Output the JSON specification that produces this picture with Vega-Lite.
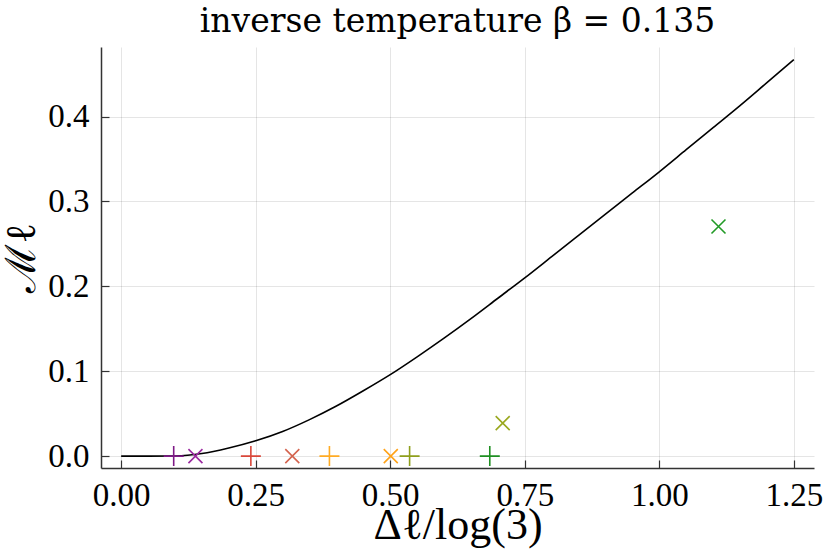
{
  "$schema": "https://vega.github.io/schema/vega-lite/v6.json",
  "width": 713,
  "height": 421,
  "autosize": {"type": "none"},
  "padding": {"left": 101, "top": 47, "right": 16, "bottom": 86},
  "background": "white",
  "title": {
    "text": "inverse temperature β = 0.135",
    "font": "DejaVu Serif",
    "fontSize": 33,
    "fontWeight": "normal",
    "color": "black",
    "anchor": "middle",
    "offset": 8
  },
  "config": {
    "view": {"stroke": null},
    "axis": {
      "labelFont": "Liberation Serif",
      "labelFontSize": 33,
      "labelColor": "black",
      "titleFont": "Liberation Serif, DejaVu Serif",
      "titleFontWeight": "normal",
      "titleColor": "black",
      "domainColor": "#333333",
      "domainWidth": 1.5,
      "tickColor": "#333333",
      "tickWidth": 1.2,
      "tickSize": -8,
      "gridColor": "#000000",
      "gridOpacity": 0.1,
      "gridWidth": 1
    }
  },
  "layer": [
    {
      "data": {
        "values": [
          {"x": 0, "y": 0},
          {"x": 0.05, "y": 0},
          {"x": 0.1, "y": 0.0002},
          {"x": 0.15, "y": 0.003},
          {"x": 0.2, "y": 0.0095},
          {"x": 0.25, "y": 0.018},
          {"x": 0.3, "y": 0.029},
          {"x": 0.35, "y": 0.043},
          {"x": 0.4, "y": 0.059},
          {"x": 0.45, "y": 0.077},
          {"x": 0.5, "y": 0.096},
          {"x": 0.55, "y": 0.117},
          {"x": 0.6, "y": 0.139},
          {"x": 0.65, "y": 0.162},
          {"x": 0.7, "y": 0.186},
          {"x": 0.75, "y": 0.21},
          {"x": 0.8, "y": 0.235},
          {"x": 0.85, "y": 0.26},
          {"x": 0.9, "y": 0.285},
          {"x": 0.95, "y": 0.31},
          {"x": 1.0, "y": 0.335},
          {"x": 1.05, "y": 0.361},
          {"x": 1.1, "y": 0.387},
          {"x": 1.15, "y": 0.413},
          {"x": 1.2, "y": 0.44},
          {"x": 1.25, "y": 0.467}
        ]
      },
      "mark": {"type": "line", "color": "black", "strokeWidth": 1.6, "interpolate": "monotone", "clip": true},
      "encoding": {
        "x": {
          "field": "x",
          "type": "quantitative",
          "scale": {"domain": [-0.0375, 1.2875], "nice": false, "zero": false},
          "axis": {
            "values": [0, 0.25, 0.5, 0.75, 1, 1.25],
            "format": ".2f",
            "labelPadding": 19,
            "labelFlush": false,
            "title": "Δℓ/log(3)",
            "titleFontSize": 44,
            "titlePadding": -9
          }
        },
        "y": {
          "field": "y",
          "type": "quantitative",
          "scale": {"domain": [-0.014, 0.482], "nice": false, "zero": false},
          "axis": {
            "values": [0, 0.1, 0.2, 0.3, 0.4],
            "format": ".1f",
            "labelPadding": 20,
            "labelFlush": false,
            "title": "ℳℓ",
            "titleFontSize": 42,
            "titlePadding": 4
          }
        }
      }
    },
    {
      "data": {
        "values": [
          {"x": 0.0976, "y": 0.0, "series": "p1", "marker": "plus"},
          {"x": 0.138, "y": 0.0, "series": "c1", "marker": "cross"},
          {"x": 0.241, "y": 0.0, "series": "p2", "marker": "plus"},
          {"x": 0.318, "y": 0.0, "series": "c2", "marker": "cross"},
          {"x": 0.387, "y": 0.0, "series": "p3", "marker": "plus"},
          {"x": 0.501, "y": 0.0, "series": "c3", "marker": "cross"},
          {"x": 0.536, "y": 0.0, "series": "p4", "marker": "plus"},
          {"x": 0.709, "y": 0.0388, "series": "c4", "marker": "cross"},
          {"x": 0.685, "y": 0.0, "series": "p5", "marker": "plus"},
          {"x": 1.11, "y": 0.2705, "series": "c5", "marker": "cross"}
        ]
      },
      "mark": {"type": "point", "filled": false, "strokeWidth": 1.6, "size": 400, "opacity": 1},
      "encoding": {
        "x": {"field": "x", "type": "quantitative"},
        "y": {"field": "y", "type": "quantitative"},
        "color": {
          "field": "series",
          "type": "nominal",
          "scale": {
            "domain": ["p1", "c1", "p2", "c2", "p3", "c3", "p4", "c4", "p5", "c5"],
            "range": ["#7e1a86", "#9b2aa0", "#d9473a", "#d4644f", "#ffab24", "#ffa31a", "#8f9f1d", "#9aa81f", "#1f8f22", "#229a26"]
          },
          "legend": null
        },
        "shape": {
          "field": "marker",
          "type": "nominal",
          "scale": {
            "domain": ["plus", "cross"],
            "range": ["M-1,0L1,0M0,-1L0,1", "M-0.7,-0.7L0.7,0.7M-0.7,0.7L0.7,-0.7"]
          },
          "legend": null
        }
      }
    }
  ]
}
